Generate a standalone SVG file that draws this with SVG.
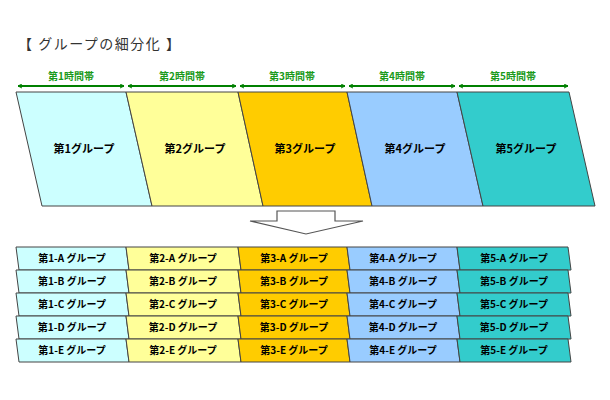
<svg xmlns="http://www.w3.org/2000/svg" width="610" height="400" viewBox="0 0 610 400">
<defs>
<marker id="ah" viewBox="0 0 10 10" refX="9" refY="5" markerWidth="5" markerHeight="5" orient="auto-start-reverse" markerUnits="userSpaceOnUse">
<path d="M1,1 L9,5 L1,9" fill="none" stroke="#008000" stroke-width="2"/>
</marker>
</defs>
<style>
.t{font-family:"Noto Sans CJK JP","Liberation Sans",sans-serif}
.title{font-size:14px;fill:#333;letter-spacing:1.5px}
.tl{font-size:10px;font-weight:bold;fill:#1a9a1a;text-anchor:middle}
.big{font-size:11px;font-weight:bold;fill:#000;text-anchor:middle}
.sm{font-size:10px;font-weight:bold;fill:#000;text-anchor:middle}
.cell{stroke:#444;stroke-width:1}
.c1{fill:#CCFFFF}.c2{fill:#FFFF99}.c3{fill:#FFCC00}.c4{fill:#99CCFF}.c5{fill:#33CCCC}
.ar{stroke:#008000;stroke-width:2;fill:none}
</style>
<rect width="610" height="400" fill="#fff"/>
<text class="t title" x="18" y="49">【 グループの細分化 】</text>

<g id="connectors">
<line class="ar" x1="18" y1="86" x2="124" y2="86" marker-start="url(#ah)" marker-end="url(#ah)"/>
<line class="ar" x1="128" y1="86" x2="236" y2="86" marker-start="url(#ah)" marker-end="url(#ah)"/>
<line class="ar" x1="240" y1="86" x2="345" y2="86" marker-start="url(#ah)" marker-end="url(#ah)"/>
<line class="ar" x1="349" y1="86" x2="455" y2="86" marker-start="url(#ah)" marker-end="url(#ah)"/>
<line class="ar" x1="459" y1="86" x2="568" y2="86" marker-start="url(#ah)" marker-end="url(#ah)"/>
<text class="t tl" x="71" y="80">第1時間帯</text>
<text class="t tl" x="182" y="80">第2時間帯</text>
<text class="t tl" x="292" y="80">第3時間帯</text>
<text class="t tl" x="402" y="80">第4時間帯</text>
<text class="t tl" x="513" y="80">第5時間帯</text>
<path d="M250,221 L277,221 L277,211 L335,211 L335,221 L363,221 L306,234 Z" fill="#fff" stroke="#555" stroke-width="1.2"/>
</g>

<g id="g1"><polygon class="cell c1" points="16,92 126,92 152,206 42,206"/><text class="t big" x="84" y="153">第1グループ</text></g>
<g id="g2"><polygon class="cell c2" points="126,92 238,92 263,206 152,206"/><text class="t big" x="195" y="153">第2グループ</text></g>
<g id="g3"><polygon class="cell c3" points="238,92 347,92 372,206 263,206"/><text class="t big" x="305" y="153">第3グループ</text></g>
<g id="g4"><polygon class="cell c4" points="347,92 457,92 483,206 372,206"/><text class="t big" x="415" y="153">第4グループ</text></g>
<g id="g5"><polygon class="cell c5" points="457,92 569,92 595,206 483,206"/><text class="t big" x="526" y="153">第5グループ</text></g>

<g id="sub1">
<polygon class="cell c1" points="16,247 126,247 129,270 19,270"/><text class="t sm" x="72" y="262">第1-A グループ</text>
<polygon class="cell c1" points="16,270 126,270 129,293 19,293"/><text class="t sm" x="72" y="285">第1-B グループ</text>
<polygon class="cell c1" points="16,293 126,293 129,316 19,316"/><text class="t sm" x="72" y="308">第1-C グループ</text>
<polygon class="cell c1" points="16,316 126,316 129,339 19,339"/><text class="t sm" x="72" y="331">第1-D グループ</text>
<polygon class="cell c1" points="16,339 126,339 129,362 19,362"/><text class="t sm" x="72" y="354">第1-E グループ</text>
</g>
<g id="sub2">
<polygon class="cell c2" points="126,247 238,247 241,270 129,270"/><text class="t sm" x="183" y="262">第2-A グループ</text>
<polygon class="cell c2" points="126,270 238,270 241,293 129,293"/><text class="t sm" x="183" y="285">第2-B グループ</text>
<polygon class="cell c2" points="126,293 238,293 241,316 129,316"/><text class="t sm" x="183" y="308">第2-C グループ</text>
<polygon class="cell c2" points="126,316 238,316 241,339 129,339"/><text class="t sm" x="183" y="331">第2-D グループ</text>
<polygon class="cell c2" points="126,339 238,339 241,362 129,362"/><text class="t sm" x="183" y="354">第2-E グループ</text>
</g>
<g id="sub3">
<polygon class="cell c3" points="238,247 347,247 350,270 241,270"/><text class="t sm" x="294" y="262">第3-A グループ</text>
<polygon class="cell c3" points="238,270 347,270 350,293 241,293"/><text class="t sm" x="294" y="285">第3-B グループ</text>
<polygon class="cell c3" points="238,293 347,293 350,316 241,316"/><text class="t sm" x="294" y="308">第3-C グループ</text>
<polygon class="cell c3" points="238,316 347,316 350,339 241,339"/><text class="t sm" x="294" y="331">第3-D グループ</text>
<polygon class="cell c3" points="238,339 347,339 350,362 241,362"/><text class="t sm" x="294" y="354">第3-E グループ</text>
</g>
<g id="sub4">
<polygon class="cell c4" points="347,247 457,247 460,270 350,270"/><text class="t sm" x="403" y="262">第4-A グループ</text>
<polygon class="cell c4" points="347,270 457,270 460,293 350,293"/><text class="t sm" x="403" y="285">第4-B グループ</text>
<polygon class="cell c4" points="347,293 457,293 460,316 350,316"/><text class="t sm" x="403" y="308">第4-C グループ</text>
<polygon class="cell c4" points="347,316 457,316 460,339 350,339"/><text class="t sm" x="403" y="331">第4-D グループ</text>
<polygon class="cell c4" points="347,339 457,339 460,362 350,362"/><text class="t sm" x="403" y="354">第4-E グループ</text>
</g>
<g id="sub5">
<polygon class="cell c5" points="457,247 568,247 571,270 460,270"/><text class="t sm" x="514" y="262">第5-A グループ</text>
<polygon class="cell c5" points="457,270 568,270 571,293 460,293"/><text class="t sm" x="514" y="285">第5-B グループ</text>
<polygon class="cell c5" points="457,293 568,293 571,316 460,316"/><text class="t sm" x="514" y="308">第5-C グループ</text>
<polygon class="cell c5" points="457,316 568,316 571,339 460,339"/><text class="t sm" x="514" y="331">第5-D グループ</text>
<polygon class="cell c5" points="457,339 568,339 571,362 460,362"/><text class="t sm" x="514" y="354">第5-E グループ</text>
</g>
</svg>
